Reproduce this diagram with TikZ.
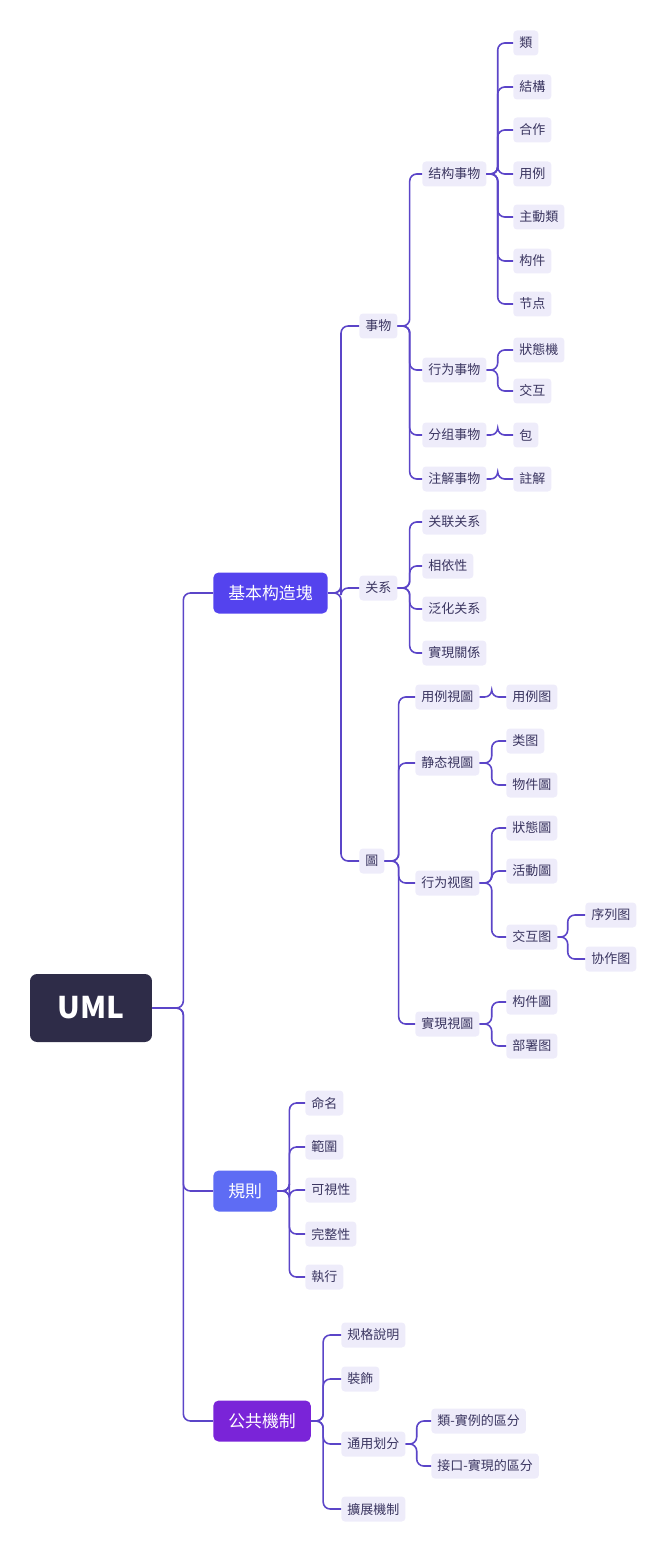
\documentclass[tikz,border=0pt]{standalone}
\usepackage{fontspec}
\setmainfont{Noto Sans CJK SC}
\usetikzlibrary{positioning}
\definecolor{umlbg}{HTML}{2E2C48}
\definecolor{basecol}{HTML}{5443EE}
\definecolor{rulecol}{HTML}{5E6CF4}
\definecolor{pubcol}{HTML}{7A24D8}
\definecolor{leaffill}{HTML}{EEECFA}
\definecolor{linecol}{HTML}{5B45C8}
\definecolor{textcol}{HTML}{3A3560}
\newcommand{\branch}[3]{\draw[link] (#1.east) -- ++(#3,0) |- (#2.west);}
\begin{document}
\begin{tikzpicture}[x=0.02cm, y=-0.02cm,
  root/.style={fill=umlbg, text=white, rounded corners=4pt, font=\bfseries\fontsize{17}{20}\selectfont, minimum width=2.44cm, minimum height=1.36cm},
  topic/.style={text=white, rounded corners=3pt, font=\fontsize{9.6}{11}\selectfont, minimum height=0.82cm, inner xsep=0.3cm, anchor=west},
  leaf/.style={fill=leaffill, text=textcol, rounded corners=2pt, font=\fontsize{7.4}{9}\selectfont, minimum height=0.5cm, inner xsep=0.12cm, anchor=west},
  link/.style={draw=linecol, line width=0.9pt, rounded corners=4pt}
]
\useasboundingbox (0,0) rectangle (669,1554);

% Root and main topics
\node[root] (uml) at (91,1008) {UML};
\node[topic, fill=basecol] (base) at (213,593) {基本构造塊};
\node[topic, fill=rulecol] (rules) at (213,1191) {規則};
\node[topic, fill=pubcol] (pub) at (213,1421) {公共機制};

% Basic building blocks
\node[leaf] (things) at (359,326) {事物};
\node[leaf] (rel) at (359,588) {关系};
\node[leaf] (diag) at (359,861) {圖};

% Things
\node[leaf] (struct) at (422,174) {结构事物};
\node[leaf] (behav) at (422,370) {行为事物};
\node[leaf] (group) at (422,435) {分组事物};
\node[leaf] (annot) at (422,479) {注解事物};
\foreach \n/\y/\t in {s1/43/類, s2/87/結構, s3/130/合作, s4/174/用例, s5/217/主動類, s6/261/构件, s7/304/节点}
  \node[leaf] (\n) at (513,\y) {\t};
\node[leaf] (b1) at (513,350) {狀態機};
\node[leaf] (b2) at (513,391) {交互};
\node[leaf] (g1) at (513,435) {包};
\node[leaf] (a1) at (513,479) {註解};

% Relationships
\foreach \n/\y/\t in {r1/522/关联关系, r2/566/相依性, r3/609/泛化关系, r4/653/實現關係}
  \node[leaf] (\n) at (422,\y) {\t};

% Diagrams
\node[leaf] (dUse) at (415,697) {用例視圖};
\node[leaf] (dStat) at (415,763) {静态視圖};
\node[leaf] (dBeh) at (415,883) {行为视图};
\node[leaf] (dImp) at (415,1024) {實現視圖};
\node[leaf] (u1) at (506,697) {用例图};
\node[leaf] (st1) at (506,741) {类图};
\node[leaf] (st2) at (506,785) {物件圖};
\node[leaf] (bh1) at (506,828) {狀態圖};
\node[leaf] (bh2) at (506,871) {活動圖};
\node[leaf] (bh3) at (506,937) {交互图};
\node[leaf] (ia1) at (585,915) {序列图};
\node[leaf] (ia2) at (585,959) {协作图};
\node[leaf] (im1) at (506,1002) {构件圖};
\node[leaf] (im2) at (506,1046) {部署图};

% Rules
\foreach \n/\y/\t in {q1/1103/命名, q2/1147/範圍, q3/1190/可視性, q4/1234/完整性, q5/1277/執行}
  \node[leaf] (\n) at (305,\y) {\t};

% Common mechanisms
\node[leaf] (p1) at (341,1335) {规格說明};
\node[leaf] (p2) at (341,1379) {裝飾};
\node[leaf] (p3) at (341,1444) {通用划分};
\node[leaf] (p4) at (341,1509) {擴展機制};
\node[leaf] (pd1) at (431,1421) {類-實例的區分};
\node[leaf] (pd2) at (431,1466) {接口-實現的區分};

% Connectors
\foreach \c in {base,rules,pub} {\branch{uml}{\c}{31}}
\foreach \c in {things,rel,diag} {\branch{base}{\c}{13}}
\foreach \c in {struct,behav,group,annot} {\branch{things}{\c}{12}}
\foreach \c in {s1,s2,s3,s4,s5,s6,s7} {\branch{struct}{\c}{11}}
\foreach \c in {b1,b2} {\branch{behav}{\c}{11}}
\branch{group}{g1}{11}
\branch{annot}{a1}{11}
\foreach \c in {r1,r2,r3,r4} {\branch{rel}{\c}{12}}
\foreach \c in {dUse,dStat,dBeh,dImp} {\branch{diag}{\c}{14}}
\branch{dUse}{u1}{12}
\foreach \c in {st1,st2} {\branch{dStat}{\c}{12}}
\foreach \c in {bh1,bh2,bh3} {\branch{dBeh}{\c}{12}}
\foreach \c in {ia1,ia2} {\branch{bh3}{\c}{10}}
\foreach \c in {im1,im2} {\branch{dImp}{\c}{12}}
\foreach \c in {q1,q2,q3,q4,q5} {\branch{rules}{\c}{12}}
\foreach \c in {p1,p2,p3,p4} {\branch{pub}{\c}{12}}
\foreach \c in {pd1,pd2} {\branch{p3}{\c}{11}}

\end{tikzpicture}
\end{document}
